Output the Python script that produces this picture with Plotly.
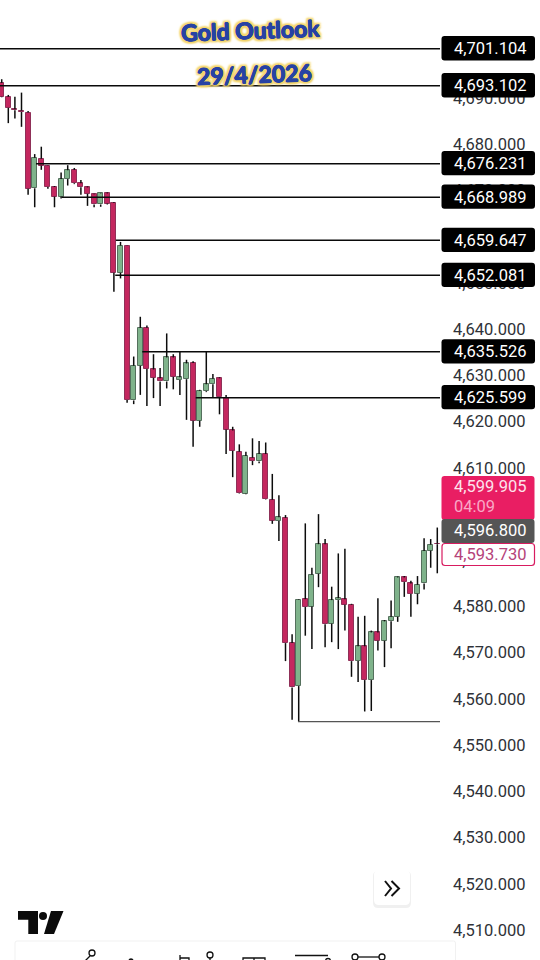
import plotly.graph_objects as go

opens = [4693.7,4690.7,4688.0,4687.7,4687.3,4670.9,4677.3,4675.7,4671.2,4669.1,4672.9,4674.9,4672.0,4671.1,4669.6,4667.4,4669.8,
 4667.7,4652.6,4658.5,4625.0,4632.5,4640.7,4631.7,4629.8,4629.1,4634.3,4629.4,4629.6,4633.1,4620.6,4627.0,4628.5,4629.8,
 4625.5,4618.5,4613.9,4604.8,4612.6,4611.8,4613.4,4603.5,4598.9,4599.6,4572.5,4563.2,4582.0,4580.4,4587.5,4593.9,4576.7,
 4581.8,4582.0,4580.8,4568.6,4571.8,4564.5,4574.8,4573.0,4577.2,4578.2,4586.7,4585.4,4583.2,4585.4,4592.5,4594.0]
highs = [4694.5,4691.1,4690.7,4691.6,4687.6,4678.3,4679.9,4675.8,4671.4,4674.3,4675.9,4675.3,4672.7,4671.3,4669.7,4669.9,4670.0,
 4667.9,4659.3,4658.6,4634.5,4643.1,4641.2,4635.0,4632.0,4639.5,4635.0,4635.6,4633.8,4633.5,4627.3,4635.6,4630.7,4630.0,
 4626.2,4619.3,4615.5,4613.9,4616.8,4616.2,4615.9,4609.1,4604.5,4600.2,4574.4,4582.0,4598.4,4588.8,4600.4,4595.0,4584.7,
 4591.9,4592.9,4581.0,4578.2,4578.4,4575.2,4582.2,4577.5,4581.7,4586.9,4587.0,4586.0,4587.0,4595.2,4595.0,4597.5]
lows = [4690.6,4685.0,4686.0,4684.2,4669.5,4666.8,4674.9,4670.8,4666.8,4668.7,4671.5,4671.8,4669.5,4667.1,4666.8,4666.9,4667.4,
 4648.5,4651.4,4624.5,4624.2,4626.2,4623.8,4625.5,4623.8,4627.6,4627.4,4626.2,4620.8,4615.0,4619.3,4626.8,4625.7,4622.0,
 4613.4,4608.4,4604.8,4604.7,4611.0,4611.4,4603.5,4598.3,4594.6,4568.6,4555.9,4555.5,4574.1,4571.2,4584.6,4571.6,4572.7,
 4571.2,4575.2,4565.2,4564.1,4557.7,4557.8,4570.9,4567.3,4571.4,4577.1,4582.5,4578.2,4580.9,4584.1,4588.8,4587.6]
closes = [4690.7,4688.3,4687.8,4687.4,4670.8,4677.5,4675.8,4671.2,4669.1,4672.9,4674.8,4672.0,4671.1,4669.7,4667.4,4669.8,4667.6,
 4652.6,4658.5,4625.1,4632.5,4640.7,4631.8,4629.9,4629.1,4634.3,4630.1,4630.0,4633.0,4620.6,4627.1,4628.5,4629.7,4625.7,
 4618.7,4614.1,4604.9,4613.0,4611.9,4613.4,4603.6,4599.0,4599.7,4572.5,4562.9,4581.9,4580.3,4587.3,4593.9,4576.6,4581.8,
 4582.2,4580.8,4568.6,4571.8,4564.5,4574.8,4573.0,4577.2,4578.2,4586.7,4585.7,4583.1,4585.1,4592.4,4593.8,4593.9]

level_prices = [4701.104,4693.102,4676.231,4668.989,4659.647,4652.081,4635.526,4625.599]
level_starts = [-1,-1,5.2,9.1,17.3,17.2,21.3,29.4]
low_price = 4555.5
low_start = 44.9
tick_values = list(range(4510,4711,10))
title_lines = ["Gold Outlook","29/4/2026"]

W,H,PW = 540,960,440
X_RANGE = [-0.258,66.41]
Y_RANGE = [4503.93,4711.64]
RED,GREEN = "#c4275f","#7fb38b"
RED_EDGE,GREEN_EDGE = "#8f3058","#55705d"
def xp(x): return x/PW
def yp(y): return 1-y/H

idx = list(range(len(opens)))
wx,wy=[],[]
for i in idx:
    wx += [i,i,None,i,i,None]
    wy += [lows[i],min(opens[i],closes[i]),None,max(opens[i],closes[i]),highs[i],None]

fig = go.Figure()
fig.add_trace(go.Scatter(x=wx,y=wy,mode="lines",line=dict(color="#0c0c0c",width=1.5),hoverinfo="skip",showlegend=False))
fig.add_trace(go.Bar(x=idx,y=[abs(c-o) for o,c in zip(opens,closes)],base=[min(o,c) for o,c in zip(opens,closes)],width=0.78,
    marker=dict(color=[RED if c<o else GREEN for o,c in zip(opens,closes)],
                line=dict(color=[RED_EDGE if c<o else GREEN_EDGE for o,c in zip(opens,closes)],width=1)),
    hoverinfo="skip",showlegend=False))

shapes=[]; ann=[]
def rrect(x0,x1,y0,y1,fill,line=None,lw=0,r=3):
    p=(f"M {xp(x0+r)} {yp(y0)} L {xp(x1-r)} {yp(y0)} Q {xp(x1)} {yp(y0)} {xp(x1)} {yp(y0+r)} "
       f"L {xp(x1)} {yp(y1-r)} Q {xp(x1)} {yp(y1)} {xp(x1-r)} {yp(y1)} L {xp(x0+r)} {yp(y1)} "
       f"Q {xp(x0)} {yp(y1)} {xp(x0)} {yp(y1-r)} L {xp(x0)} {yp(y0+r)} Q {xp(x0)} {yp(y0)} {xp(x0+r)} {yp(y0)} Z")
    shapes.append(dict(type="path",path=p,xref="paper",yref="paper",fillcolor=fill,
                       line=dict(color=line or fill,width=lw),layer="above"))
def poly(pts,fill=None,color="#000",lw=0):
    p="M "+" L ".join(f"{xp(a)} {yp(b)}" for a,b in pts)+(" Z" if fill else "")
    shapes.append(dict(type="path",path=p,xref="paper",yref="paper",fillcolor=fill or "rgba(0,0,0,0)",
                       line=dict(color=color,width=lw),layer="above"))
def circ(cx,cy,r,fill="#fff",color="#111",lw=1.3):
    shapes.append(dict(type="circle",xref="paper",yref="paper",x0=xp(cx-r),x1=xp(cx+r),y0=yp(cy+r),y1=yp(cy-r),
                       fillcolor=fill,line=dict(color=color,width=lw),layer="above"))
def label(x,y,text,color,size=16.5):
    ann.append(dict(xref="paper",yref="paper",x=xp(x),y=yp(y),text=text,showarrow=False,xanchor="left",yanchor="middle",
                    font=dict(family="Roboto",size=size,color=color)))

for s,p in zip(level_starts,level_prices):
    shapes.append(dict(type="line",xref="x",yref="y",x0=s,x1=X_RANGE[1],y0=p,y1=p,line=dict(color="#0a0a0a",width=1.5),layer="above"))
shapes.append(dict(type="line",xref="x",yref="y",x0=low_start,x1=X_RANGE[1],y0=low_price,y1=low_price,line=dict(color="#555",width=1.3),layer="above"))

to_px = lambda p:(Y_RANGE[1]-p)/(Y_RANGE[1]-Y_RANGE[0])*H
for p in level_prices:
    c=to_px(p)
    rrect(441.5,535,c-12.6,c+11.7,"#000000")
    label(452,c,f"{p:,.3f}","#ffffff")

rrect(441.5,534.5,476,520,"#e91e63")
label(452,486,"4,599.905","#fde3ec")
label(452,507,"04:09","#f9a8c6")
rrect(441.5,534.5,519,543,"#555555")
label(452,530.5,"4,596.800","#ffffff")
rrect(442,534.5,543.5,565.5,"#ffffff","#d81b60",1.2)
label(452,554.5,"4,593.730","#b5437a")

# TradingView logo
poly([(18,911),(38,911),(38,934),(28.3,934),(28.3,919.8),(18,919.8)],fill="#0b0b0b",color="#0b0b0b")
circ(43,916,4,fill="#0b0b0b",color="#0b0b0b",lw=0)
poly([(51,911),(63.5,911),(54,934),(44,934)],fill="#0b0b0b",color="#0b0b0b")

# scroll button
rrect(373,411,871,908,"rgba(0,0,0,0.06)",r=5)
rrect(374,410,870,905,"#ffffff",r=5)
poly([(385,881),(391,888.5),(385,896)],color="#111",lw=2)
poly([(391.5,881),(399,888.5),(391.5,896)],color="#111",lw=2)

# toolbar card with clipped icons
rrect(15,455.5,941,975,"#ffffff","#f1f1f1",1,r=2)
circ(92,953,3); poly([(90,956),(85,961)],color="#111",lw=1.3)
circ(131,961,2,fill="#111")
poly([(148,961),(158,961),(156,966)],color="#111",lw=1.3)
poly([(180,955),(180,961)],color="#111",lw=1.3); poly([(180,958),(189,958),(189,961)],color="#111",lw=1.3)
circ(210,955,3); poly([(210,958),(210,961)],color="#111",lw=1.3)
poly([(243,962),(243,958),(265,958),(265,962)],color="#111",lw=1.3); poly([(254,958),(254,962)],color="#111",lw=1.3)
poly([(295,955.5),(328,955.5)],color="#111",lw=1.3); circ(328,961,2.5)
poly([(358,957),(379,957)],color="#111",lw=1.3); circ(355,957,3); circ(382,957,3)

glow=("0.6px 0 0 #2742a4, -0.6px 0 0 #2742a4, 0 0.6px 0 #2742a4, 0 -0.6px 0 #2742a4, "
      "2px 0 2px #f5d76e, -2px 0 2px #f5d76e, 0 2px 2px #f5d76e, 0 -2px 2px #f5d76e, 2px 2px 2px #e8c65a, -2px -2px 2px #f5d76e, 2px -2px 2px #f5d76e, -2px 2px 2px #f5d76e")
for text,x,y,size,rot in [(title_lines[0],250,30,23,-2),(title_lines[1],254,74,23,-2)]:
    ann.append(dict(xref="paper",yref="paper",x=xp(x),y=yp(y),text=f"<b>{text}</b>",showarrow=False,xanchor="center",yanchor="middle",textangle=rot,
                    font=dict(family="Lato",size=size,color="#2742a4",weight=900,shadow=glow)))

fig.update_layout(width=W,height=H,margin=dict(l=0,r=W-PW,t=0,b=0,autoexpand=False),paper_bgcolor="#ffffff",plot_bgcolor="#ffffff",
    showlegend=False,bargap=0,shapes=shapes,annotations=ann,
    xaxis=dict(range=X_RANGE,visible=False,fixedrange=True),
    yaxis=dict(range=Y_RANGE,side="right",tickmode="array",tickvals=tick_values,ticktext=[f"{v:,.3f}" for v in tick_values],
               showgrid=False,zeroline=False,showline=False,ticks="",ticklabelstandoff=12,ticklabelshift=-2,
               tickfont=dict(family="Roboto",size=16.5,color="#2f3238"),fixedrange=True))
fig.write_html("out.html",config=dict(displayModeBar=False),post_script="document.body.style.margin='0';")
